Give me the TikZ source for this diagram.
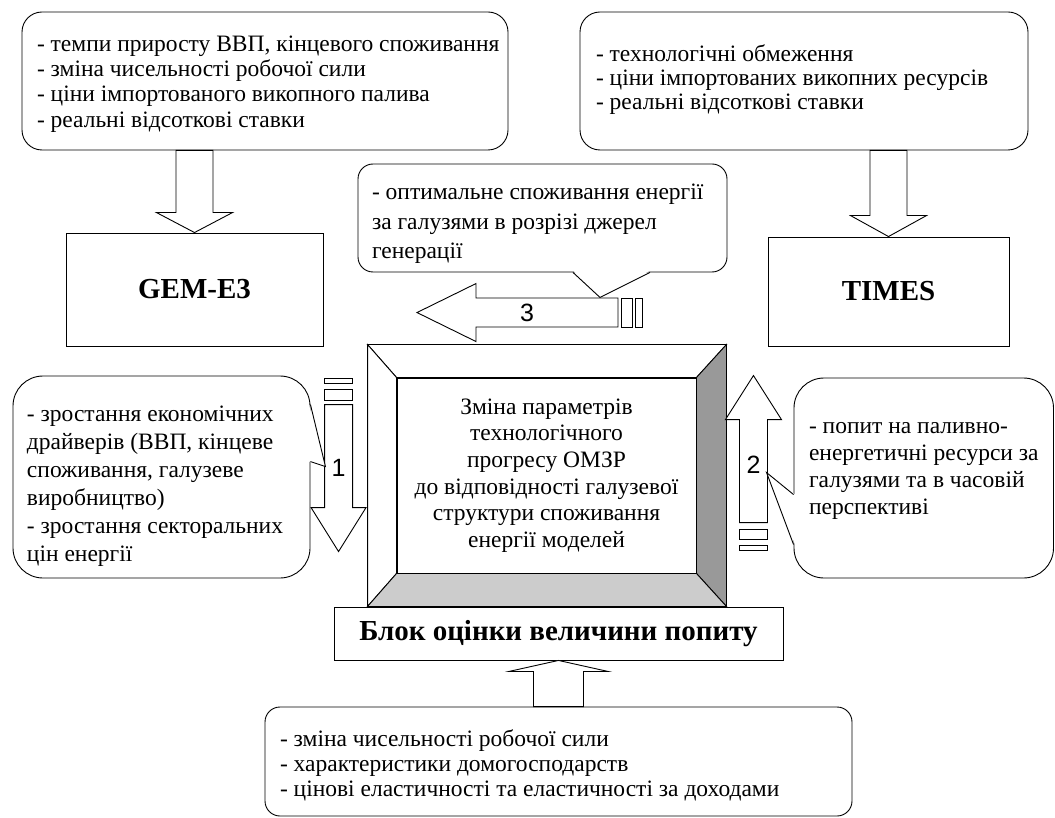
\documentclass[tikz,border=0pt]{standalone}
\usepackage{fontspec}
\setmainfont{Liberation Serif}
\newfontfamily\digitfont{Liberation Sans}
\usetikzlibrary{calc}

\tikzset{
  box/.style={draw, fill=white, inner sep=0pt},
  roundbox/.style={box, rounded corners=#1},
  boldbox/.style={box, font=\fontsize{29}{33}\selectfont\bfseries},
  lines/.style={align=left, inner sep=0pt, font=\fontsize{23.5}{#1}\selectfont},
  num/.style={inner sep=0pt, font=\digitfont\fontsize{25}{25}\selectfont},
}

% block arrow: from, to, half shaft, half head, head length
\newcommand{\fatarrow}[5]{%
  \coordinate (fa-b) at ($(#2)!#5!(#1)$);
  \draw[fill=white] ($(#1)!#3!90:(#2)$) -- ($(fa-b)!#3!90:(#2)$)
    -- ($(fa-b)!#4!90:(#2)$) -- (#2) -- ($(fa-b)!#4!-90:(#2)$)
    -- ($(fa-b)!#3!-90:(#2)$) -- ($(#1)!#3!-90:(#2)$) -- cycle;
}

\begin{document}
\begin{tikzpicture}[x=1pt, y=-1pt, line width=0.9pt]
    \useasboundingbox (0,0) rectangle (1055,818);

    % Inputs of the two models
    \node[roundbox=20pt, minimum width=486pt, minimum height=138pt] (gemin) at (265,81) {};
    \node[lines=25.3, anchor=west] (gemintext) at ($(gemin.west)+(15,3)$)
        {- темпи приросту ВВП, кінцевого споживання\\
         - зміна чисельності робочої сили\\
         - ціни імпортованого викопного палива\\
         - реальні відсоткові ставки};
    \node[roundbox=20pt, minimum width=448pt, minimum height=138pt] (timesin) at (804,81) {};
    \node[lines=24, anchor=west] (timesintext) at ($(timesin.west)+(16,-1.5)$)
        {- технологічні обмеження\\
         - ціни імпортованих викопних ресурсів\\
         - реальні відсоткові ставки};

    % Models
    \node[boldbox, minimum width=257pt, minimum height=113pt] (gem) at (194.5,289.5) {GEM-E3};
    \node[boldbox, minimum width=241pt, minimum height=109pt] (times) at (888.5,291.5) {TIMES};

    \coordinate (a1s) at (gemin.south -| gem.north);
    \fatarrow{a1s}{gem.north}{18.5pt}{38pt}{20pt}
    \coordinate (a2s) at (timesin.south -| times.north);
    \fatarrow{a2s}{times.north}{18.5pt}{38pt}{21pt}

    % Bevelled block
    \node[box, minimum width=358pt, minimum height=261pt] (frame) at (547,475.5) {};
    \node[box, minimum width=299pt, minimum height=195pt, align=center,
          font=\fontsize{23.5}{26.6}\selectfont] (model) at (546.5,475.5)
        {Зміна параметрів\\ технологічного\\ прогресу ОМЗР\\
         до відповідності галузевої\\ структури споживання\\ енергії моделей};
    \draw[fill=white] (frame.north west) -- (frame.north east) -- (model.north east) -- (model.north west) -- cycle;
    \draw[fill=white] (frame.north west) -- (model.north west) -- (model.south west) -- (frame.south west) -- cycle;
    \draw[fill=black!40] (frame.north east) -- (frame.south east) -- (model.south east) -- (model.north east) -- cycle;
    \draw[fill=black!20] (frame.south west) -- (frame.south east) -- (model.south east) -- (model.south west) -- cycle;

    \node[boldbox, minimum width=449pt, minimum height=53pt] (block) at (558.5,633.5) {Блок оцінки величини попиту};

    % Demand inputs
    \node[roundbox=15pt, minimum width=587pt, minimum height=109pt] (demin) at (558.5,761.5) {};
    \node[lines=25, anchor=west] (demintext) at ($(demin.west)+(15,3.5)$)
        {- зміна чисельності робочої сили\\
         - характеристики домогосподарств\\
         - цінові еластичності та еластичності за доходами};
    \coordinate (a3s) at (demin.north -| block.south);
    \fatarrow{a3s}{block.south}{25pt}{49.5pt}{11pt}

    % Flows 1, 2, 3
    \coordinate (d1s) at ($(frame.north west)+(-29,60)$);
    \coordinate (d1t) at ($(frame.north west)+(-29,207)$);
    \coordinate (d2s) at ($(frame.north east)+(27,178)$);
    \coordinate (d2t) at ($(frame.north east)+(27,31)$);
    \coordinate (d3s) at ($(frame.north)+(71,-32)$);
    \coordinate (d3t) at ($(frame.north)+(-130,-32)$);
    \fatarrow{d1s}{d1t}{14pt}{27.5pt}{44pt}
    \fatarrow{d2s}{d2t}{14pt}{28pt}{44pt}
    \fatarrow{d3s}{d3t}{14.5pt}{29pt}{59pt}
    \draw (d1s) ++(-14,-4) rectangle ++(28,-11);
    \draw (d1s) ++(-14,-21) rectangle ++(28,-5);
    \draw (d2s) ++(-14,7) rectangle ++(28,10);
    \draw (d2s) ++(-14,23) rectangle ++(28,5);
    \draw (d3s) ++(3,-14.5) rectangle ++(11,29);
    \draw (d3s) ++(17,-14.5) rectangle ++(7,29);
    \node[num] (n1) at ($(d1s)+(0,63)$) {1};
    \node[num] (n2) at ($(d2s)+(0,-58)$) {2};
    \node[num] (n3) at ($(d3s)+(-91,0)$) {3};

    % Callouts
    \node[roundbox=15pt, minimum width=369pt, minimum height=108pt] (c3) at (542.5,218) {};
    \node[lines=29.5, anchor=west] (c3text) at ($(c3.west)+(14,6)$)
        {- оптимальне споживання енергії\\
         за галузями в розрізі джерел\\
         генерації};
    \coordinate (c3tip) at ($(c3.south)+(57.5,25)$);
    \fill[white] ($(c3.south)+(31,-1.5)$) -- (c3tip) -- ($(c3.south)+(107,-1.5)$) -- cycle;
    \draw ($(c3.south)+(30.5,0)$) -- (c3tip) -- ($(c3.south)+(107.5,0)$);

    \node[roundbox=30pt, minimum width=297pt, minimum height=202pt] (c1) at (161.5,477) {};
    \node[lines=28, anchor=west] (c1text) at ($(c1.west)+(14,9)$)
        {- зростання економічних\\
         драйверів (ВВП, кінцеве\\
         споживання, галузеве\\
         виробництво)\\
         - зростання секторальних\\
         цін енергії};
    \coordinate (c1tip) at ($(c1.north east)+(15,91)$);
    \fill[white] ($(c1.north east)+(-1.5,29)$) -- (c1tip) -- ($(c1.north east)+(-1.5,86)$) -- cycle;
    \draw ($(c1.north east)+(0,29)$) -- (c1tip) -- ($(c1.north east)+(0,86)$);

    \node[roundbox=30pt, minimum width=259.5pt, minimum height=200pt] (c2) at (923.75,478) {};
    \node[lines=27, anchor=west] (c2text) at ($(c2.west)+(15,-7)$)
        {- попит на паливно-\\
         енергетичні ресурси за\\
         галузями та в часовій\\
         перспективі};
    \coordinate (c2tip) at ($(c2.north west)+(-27,95)$);
    \fill[white] ($(c2.north west)+(1.5,117)$) -- (c2tip) -- ($(c2.north west)+(1.5,167)$) -- cycle;
    \draw ($(c2.north west)+(0,117)$) -- (c2tip) -- ($(c2.north west)+(0,167)$);
\end{tikzpicture}
\end{document}
